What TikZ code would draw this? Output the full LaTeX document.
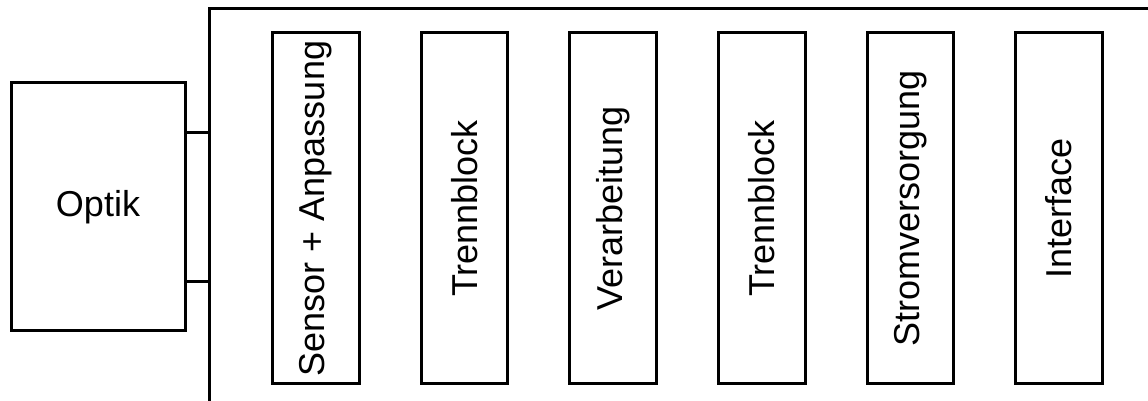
\documentclass[tikz,border=0pt]{standalone}
\usepackage{fontspec}
\setmainfont{Liberation Sans}
\usetikzlibrary{positioning}

\begin{document}
\begin{tikzpicture}[
x=1pt, y=1pt,
line width=3pt,
font=\fontsize{36}{40}\selectfont,
node distance=62pt,
blocknode/.style={rectangle, draw=black, outer sep=0pt, inner sep=0pt, minimum width=86.6pt, minimum height=351pt},
optiknode/.style={rectangle, draw=black, outer sep=0pt, minimum width=174pt, minimum height=248pt},
]
\useasboundingbox (0,0) rectangle (1148,401);
%Nodes
\node[optiknode](Optik) at (98,194.2){Optik};
\node[blocknode](Sensor) at (316,192.5){\rotatebox{90}{Sensor + Anpassung}};
\node[blocknode](TrennA)[right=of Sensor]{\rotatebox{90}{Trennblock}};
\node[blocknode](Verarbeitung)[right=of TrennA]{\rotatebox{90}{Verarbeitung}};
\node[blocknode](TrennB)[right=of Verarbeitung]{\rotatebox{90}{Trennblock}};
\node[blocknode](Strom)[right=of TrennB]{\rotatebox{90}{Stromversorgung}};
\node[blocknode](Interface)[right=of Strom]{\rotatebox{90}{Interface}};

%Frame
\coordinate (FrameTop) at (209.3,392.7);
\coordinate (BusA) at (209.3,268);
\coordinate (BusB) at (209.3,119);
\draw (1148,392.7) -- (FrameTop) -- (209.3,0);

%Lines
\draw (BusA -| Optik.east) -- (BusA);
\draw (BusB -| Optik.east) -- (BusB);
\end{tikzpicture}
\end{document}
